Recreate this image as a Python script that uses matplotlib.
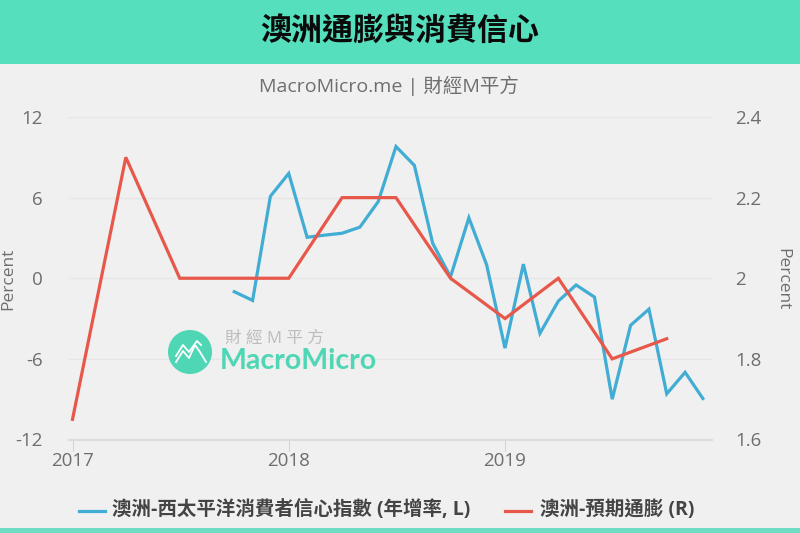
import matplotlib
matplotlib.use("Agg")
import matplotlib.pyplot as plt
import matplotlib.dates as mdates
from matplotlib.patches import Rectangle, Circle
from matplotlib.lines import Line2D
import pandas as pd

plt.rcParams['font.family'] = ['Open Sans', 'Noto Sans CJK TC', 'DejaVu Sans']

blue_dates = pd.date_range("2017-10-01", "2019-12-01", freq="MS")
blue_values = [-1.0, -1.65, 6.1, 7.8, 3.05, 3.2, 3.35, 3.8, 5.7, 9.8, 8.4, 2.6, 0.1, 4.5, 1.0,
               -5.2, 1.05, -4.1, -1.7, -0.5, -1.4, -9.0, -3.5, -2.3, -8.6, -7.0, -8.95]
red_dates = pd.date_range("2017-01-01", "2019-10-01", freq="QS")
red_values = [1.65, 2.3, 2.0, 2.0, 2.0, 2.2, 2.2, 2.0, 1.9, 2.0, 1.8, 1.85]
left_ticks = [-12, -6, 0, 6, 12]
right_ticks = [1.6, 1.8, 2.0, 2.2, 2.4]
right_labels = ["1.6", "1.8", "2", "2.2", "2.4"]
year_ticks = ["2017", "2018", "2019"]
title = "澳洲通膨與消費信心"
subtitle = "MacroMicro.me | 財經M平方"
blue_name = "澳洲-西太平洋消費者信心指數 (年增率, L)"
red_name = "澳洲-預期通膨 (R)"

W, H = 800, 533
BG = "#f0f0f0"; TEAL = "#56dfbd"; BLUE = "#41acd4"; RED = "#e8584a"
GREY = "#6e6e6e"

fig = plt.figure(figsize=(W / 100, H / 100), dpi=100, facecolor=BG)
def fx(px): return px / W
def fy(py): return 1 - py / H

fig.add_artist(Rectangle((0, fy(64)), 1, 64 / H, transform=fig.transFigure, color=TEAL, lw=0))
fig.add_artist(Rectangle((0, 0), 1, 5 / H, transform=fig.transFigure, color="#6fdcc4", lw=0))
fig.text(0.5, fy(32), title, ha="center", va="center", fontsize=22.3, fontweight="bold",
         color="#0a0a0a", family=['Noto Sans CJK TC'])
fig.text(fx(389), fy(86), subtitle, ha="center", va="center", fontsize=14, color=GREY)

ax = fig.add_axes([fx(69), fy(439.5), (712 - 69) / W, (439.5 - 117) / H])
ax.set_facecolor("none")
x0 = mdates.date2num(pd.Timestamp("2017-01-01"))
x2 = mdates.date2num(pd.Timestamp("2019-01-01"))
perpx = (x2 - x0) / (505 - 72.5)
ax.set_xlim(x0 - 3.5 * perpx, x0 + (712 - 72.5) * perpx)
ax.set_ylim(-12, 12)
ax.set_yticks(left_ticks)
ax.set_yticklabels([str(v) for v in left_ticks])
ax.set_xticks([pd.Timestamp(f"{y}-01-01") for y in year_ticks])
ax.set_xticklabels(year_ticks)
ax.grid(axis="y", color="#e6e6e6", lw=1)
ax.set_axisbelow(True)
for s in ["top", "left", "right"]:
    ax.spines[s].set_visible(False)
ax.spines["bottom"].set_color("#dcdcdc")
ax.spines["bottom"].set_linewidth(1.6)
ax.tick_params(axis="x", length=8, width=0.8, color="#d4d4d4", labelcolor=GREY, labelsize=13.5, pad=1)
ax.tick_params(axis="y", length=0, labelcolor=GREY, labelsize=13.5, pad=19)
ax.plot(blue_dates, blue_values, color=BLUE, lw=2.3, solid_joinstyle="miter", zorder=3)

ax2 = ax.twinx()
ax2.set_ylim(1.6, 2.4)
ax2.set_yticks(right_ticks)
ax2.set_yticklabels(right_labels)
for s in ax2.spines.values():
    s.set_visible(False)
ax2.tick_params(axis="y", length=0, labelcolor=GREY, labelsize=13.5, pad=16.5)
ax2.plot(red_dates, red_values, color=RED, lw=2.3, solid_joinstyle="miter", zorder=4)

fig.text(fx(8), fy(279), "Percent", rotation=90, ha="center", va="center", fontsize=12.5, color=GREY)
fig.text(fx(782), fy(279), "Percent", rotation=270, ha="center", va="center", fontsize=12.5, color=GREY)

# legend
fig.add_artist(Line2D([fx(79), fx(104.5)], [fy(511)] * 2, color=BLUE, lw=2.3))
fig.text(fx(112), fy(510), blue_name, ha="left", va="center", fontsize=14, fontweight="bold", color="#444444")
fig.add_artist(Line2D([fx(505), fx(531)], [fy(511)] * 2, color=RED, lw=2.3))
fig.text(fx(540), fy(510), red_name, ha="left", va="center", fontsize=14, fontweight="bold", color="#444444")

# watermark logo
logo = fig.add_axes([0, 0, 1, 1], facecolor="none", zorder=1)
logo.set_xlim(0, W); logo.set_ylim(H, 0); logo.axis("off")
logo.add_patch(Circle((190, 352), 22, color="#4fd6b5", lw=0))
logo.plot([176, 183, 189, 195, 200, 206], [362, 351, 358, 345, 352, 362], color="white", lw=1.3)
logo.plot([176, 183, 189, 197, 201], [356, 345, 352, 341, 345], color="white", lw=1.3)
logo.text(225, 339, "財 經 M 平 方", fontsize=12, color="#bdbdbd", va="center", ha="left")
logo.text(220, 361, "MacroMicro", fontsize=20.5, fontweight="bold", color="#4fd6b5", va="center", ha="left",
          family=['Lato'])

fig.savefig("out.png", dpi=100, facecolor=BG)
